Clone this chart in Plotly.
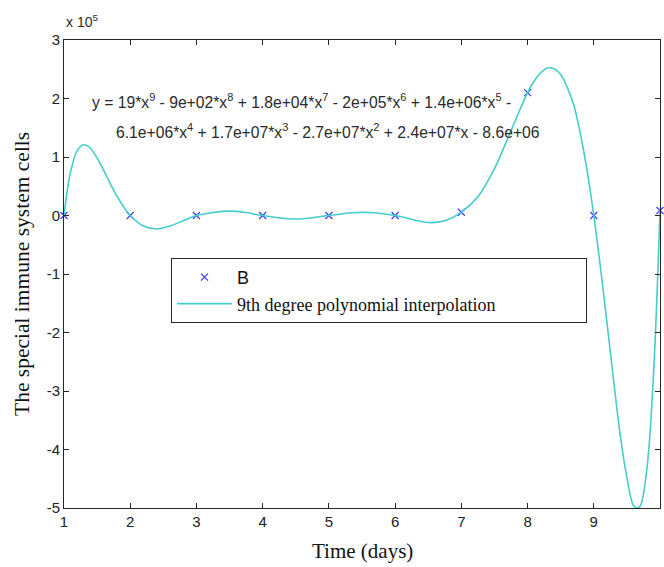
import plotly.graph_objects as go

# ---- data ----
days = [1, 2, 3, 4, 5, 6, 7, 8, 9, 10]
b_values = [0.0, 0.0, 0.0, 0.0, 0.0, 0.0, 0.056e5, 2.10e5, 0.0, 0.085e5]

curve_x = [1.0, 1.04, 1.1, 1.2, 1.3, 1.4, 1.5, 1.6, 1.7, 1.8, 1.9, 2.0,
           2.2, 2.4, 2.6, 2.8, 3.0, 3.25, 3.5, 3.75, 4.0, 4.5, 5.0, 5.5,
           6.0, 6.5, 6.75, 7.0, 7.25, 7.5, 7.75, 8.0, 8.1, 8.2, 8.3, 8.4,
           8.5, 8.6, 8.7, 8.8, 8.9, 9.0, 9.1, 9.2, 9.3, 9.4, 9.5, 9.6,
           9.65, 9.7, 9.8, 9.9, 10.0]
curve_y = [0.0, 0.35e5, 0.75e5, 1.11e5, 1.21e5, 1.15e5, 0.98e5, 0.77e5,
           0.54e5, 0.33e5, 0.15e5, 0.0, -0.18e5, -0.23e5, -0.18e5, -0.09e5,
           0.0, 0.05e5, 0.075e5, 0.05e5, 0.0, -0.06e5, 0.0, 0.055e5,
           0.0, -0.12e5, -0.09e5, 0.056e5, 0.32e5, 0.80e5, 1.45e5, 2.10e5,
           2.30e5, 2.44e5, 2.52e5, 2.51e5, 2.41e5, 2.19e5, 1.88e5, 1.38e5,
           0.76e5, 0.0, -0.88e5, -1.84e5, -2.82e5, -3.76e5, -4.48e5, -4.96e5,
           -5.0e5, -4.97e5, -4.35e5, -2.76e5, 0.085e5]

x_ticks = [1, 2, 3, 4, 5, 6, 7, 8, 9, 10]
y_tick_vals = [-5e5, -4e5, -3e5, -2e5, -1e5, 0, 1e5, 2e5, 3e5]
y_tick_text = ["-5", "-4", "-3", "-2", "-1", "0", "1", "2", "3"]

eq_line1 = ("y = 19*x<sup>9</sup> - 9e+02*x<sup>8</sup> + 1.8e+04*x<sup>7</sup>"
            " - 2e+05*x<sup>6</sup> + 1.4e+06*x<sup>5</sup> -")
eq_line2 = ("6.1e+06*x<sup>4</sup> + 1.7e+07*x<sup>3</sup> - 2.7e+07*x<sup>2</sup>"
            " + 2.4e+07*x - 8.6e+06")

AXC = "#262626"
SANS = "Liberation Sans, Arial, sans-serif"
SERIF = "Liberation Serif, Times New Roman, serif"

fig = go.Figure()
fig.add_trace(go.Scatter(
    x=days, y=b_values, mode="markers",
    name='<span style="font-family:Liberation Sans, Arial, sans-serif">B</span>',
    marker=dict(symbol="x-thin", size=7, color="#3a3aff",
                line=dict(width=1.2, color="#3a3aff")),
    cliponaxis=False,
))
fig.add_trace(go.Scatter(
    x=curve_x, y=curve_y, mode="lines",
    name="9th degree polynomial interpolation" + "\u00a0" * 19,
    line=dict(color="#45cdcd", width=1.6, shape="spline", smoothing=1.0),
))

axis_common = dict(
    showline=True, linecolor=AXC, linewidth=1, mirror="ticks",
    ticks="inside", ticklen=5, tickcolor=AXC, tickwidth=1,
    showgrid=False, zeroline=False,
    tickfont=dict(family=SANS, size=15, color="#222222"),
)

fig.update_layout(
    width=664, height=567,
    margin=dict(l=64, r=4, t=40, b=59),
    paper_bgcolor="white", plot_bgcolor="white",
    xaxis=dict(range=[1, 10], tickvals=x_ticks, **axis_common),
    yaxis=dict(range=[-5e5, 3e5], tickvals=y_tick_vals, ticktext=y_tick_text,
               **axis_common),
    legend=dict(x=(171 - 64) / 596, y=(508 - 258) / 468,
                xanchor="left", yanchor="top",
                bordercolor=AXC, borderwidth=1, bgcolor="white",
                font=dict(family=SERIF, size=18, color="#111"),
                itemwidth=55, tracegroupgap=0),
    showlegend=True,
)

annotations = [
    dict(text="x 10<sup>5</sup>", x=0, y=1.0, xref="paper", yref="paper",
         xanchor="left", yanchor="bottom", yshift=8, showarrow=False,
         font=dict(family=SANS, size=14, color="#2a2a2a")),
    dict(text=eq_line1, x=(90 - 64) / 596, y=(508 - 101) / 468,
         xref="paper", yref="paper", xanchor="left", yanchor="middle",
         showarrow=False, font=dict(family=SANS, size=15.7, color="#2a2a2a")),
    dict(text=eq_line2, x=(114 - 64) / 596, y=(508 - 131) / 468,
         xref="paper", yref="paper", xanchor="left", yanchor="middle",
         showarrow=False, font=dict(family=SANS, size=15.7, color="#2a2a2a")),
    dict(text="Time (days)", x=0.5, y=-(551 - 508) / 468, xref="paper",
         yref="paper", xanchor="center", yanchor="middle", showarrow=False,
         font=dict(family=SERIF, size=21, color="#111")),
    dict(text="The special immune system cells", x=(22 - 64) / 596, y=0.5,
         xref="paper", yref="paper", xanchor="center", yanchor="middle",
         textangle=-90, showarrow=False,
         font=dict(family=SERIF, size=21.5, color="#111")),
]
fig.update_layout(annotations=annotations)

# remove the browser's default 8px page margin so the 664x567 figure
# fills the window exactly
fig.write_html(
    "out.html",
    config={"displayModeBar": False},
    post_script="document.body.style.margin='0';"
                "document.body.style.overflow='hidden';",
)
